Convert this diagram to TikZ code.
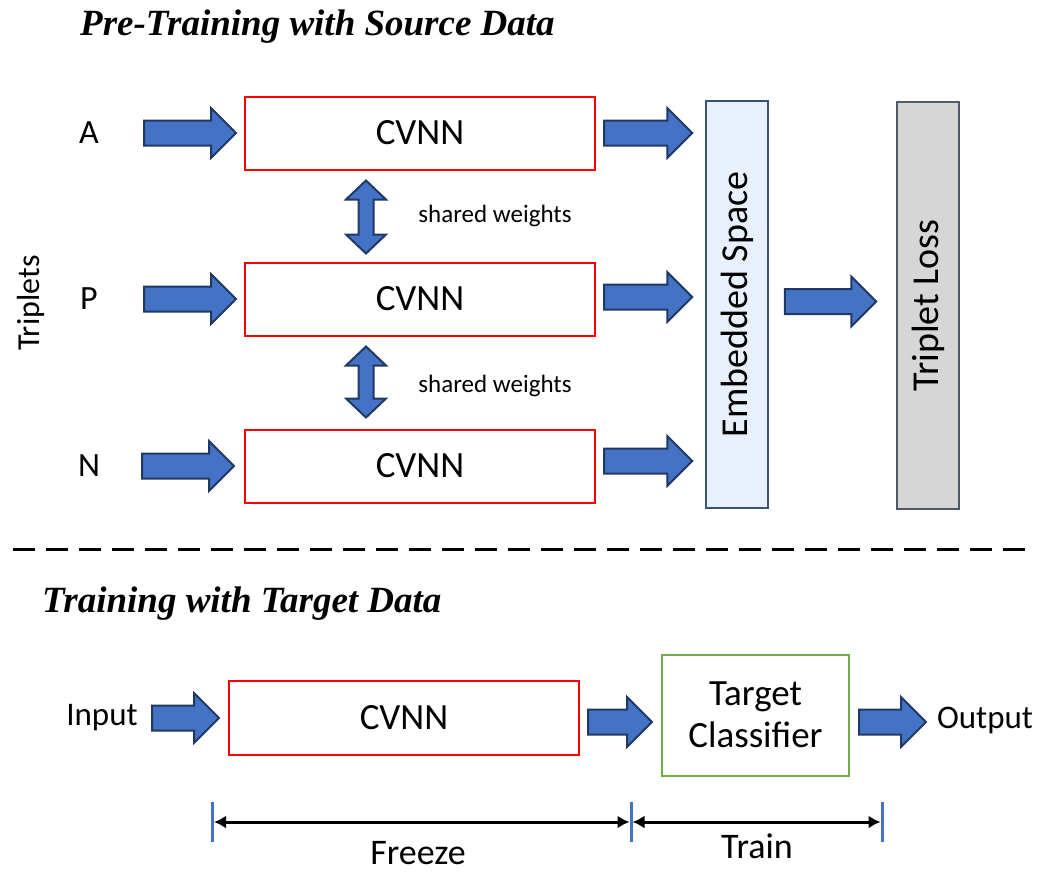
\documentclass[tikz,border=0pt]{standalone}
\usepackage{fontspec}
\setmainfont{Carlito}
\newfontfamily\titlefont{Liberation Serif}
\usepackage{tikz}
\usetikzlibrary{calc}
\usetikzlibrary{arrows.meta}
\usetikzlibrary{positioning}
\definecolor{arrowblue}{RGB}{68, 114, 196}
\definecolor{arrowedge}{RGB}{32, 56, 100}
\definecolor{cvnnred}{RGB}{255, 0, 0}
\definecolor{embfill}{RGB}{231, 240, 252}
\definecolor{embedge}{RGB}{58, 84, 112}
\definecolor{lossfill}{RGB}{214, 214, 214}
\definecolor{lossedge}{RGB}{78, 90, 104}
\definecolor{clfgreen}{RGB}{112, 173, 71}
\definecolor{tickblue}{RGB}{68, 114, 196}

\tikzset{
  cvnn/.style    ={draw=cvnnred, line width=2pt, minimum width=350pt, minimum height=73pt,
                   inner sep=0pt, font=\fontsize{37}{44}\selectfont},
  column/.style  ={line width=1.5pt, rotate=90, minimum width=407pt, minimum height=62pt,
                   inner sep=0pt, font=\fontsize{38}{45}\selectfont},
  label/.style   ={inner sep=0pt, font=\fontsize{34}{41}\selectfont},
  small/.style   ={inner sep=0pt, font=\fontsize{25}{30}\selectfont},
  title/.style   ={inner sep=0pt, font=\titlefont\bfseries\itshape\fontsize{37}{44}\selectfont},
  blockarrow/.style={fill=arrowblue, draw=arrowedge, line width=2pt, line join=miter},
  ticks/.style   ={draw=tickblue, line width=3pt},
  span/.style    ={line width=3pt, {Latex[length=12pt,width=13pt]}-{Latex[length=12pt,width=13pt]}},
}

% horizontal block arrow from #1 to #2 (tip)
\newcommand{\blockarr}[2]{%
  \draw[blockarrow] let \p1=(#1), \p2=(#2) in
    (\x1,\y1+12.5pt) -- (\x2-25pt,\y1+12.5pt) -- (\x2-25pt,\y1+25pt) -- (\x2,\y1)
    -- (\x2-25pt,\y1-25pt) -- (\x2-25pt,\y1-12.5pt) -- (\x1,\y1-12.5pt) -- cycle;}
% vertical double block arrow from #1 (top tip) to #2 (bottom tip)
\newcommand{\sharedarr}[2]{%
  \draw[blockarrow] let \p1=(#1), \p2=(#2) in
    (\x1,\y1) -- (\x1+20pt,\y1-19pt) -- (\x1+7.5pt,\y1-19pt) -- (\x1+7.5pt,\y2+19pt)
    -- (\x1+20pt,\y2+19pt) -- (\x1,\y2) -- (\x1-20pt,\y2+19pt) -- (\x1-7.5pt,\y2+19pt)
    -- (\x1-7.5pt,\y1-19pt) -- (\x1-20pt,\y1-19pt) -- cycle;}

\begin{document}
\begin{tikzpicture}[x=1pt, y=-1pt]
\useasboundingbox (0,0) rectangle (1041,873);

% pre-training
\node[title, anchor=base west] (titleSrc) at (80,35) {Pre-Training with Source Data};

\node[cvnn] (cvnnA) at (420,133) {CVNN};
\node[cvnn] (cvnnP) at (420,299) {CVNN};
\node[cvnn] (cvnnN) at (420,466) {CVNN};

\node[label] (labA) at (89,133) {A};
\node[label] (labP) at (89,299) {P};
\node[label] (labN) at (89,466) {N};
\node[label, rotate=90, font=\fontsize{32}{38}\selectfont] (triplets) at (31,303) {Triplets};

% rotated columns: north is the left side, south the right side
\node[column, draw=embedge,  fill=embfill]  (emb)  at (737,304.5) {Embedded Space};
\node[column, draw=lossedge, fill=lossfill] (loss) at (928,305.5) {Triplet Loss};

\blockarr{$(cvnnA.west)+(-100,0)$}{$(cvnnA.west)+(-8,0)$}
\blockarr{$(cvnnP.west)+(-100,0)$}{$(cvnnP.west)+(-8,0)$}
\blockarr{$(cvnnN.west)+(-102,0)$}{$(cvnnN.west)+(-10,0)$}
\blockarr{$(cvnnA.east)+(8,0)$}{$(emb.north |- cvnnA.east)+(-13,0)$}
\blockarr{$(cvnnP.east)+(8,-2)$}{$(emb.north |- cvnnP.east)+(-13,-2)$}
\blockarr{$(cvnnN.east)+(8,-5)$}{$(emb.north |- cvnnN.east)+(-13,-5)$}
\blockarr{$(emb.south)+(16,-3)$}{$(loss.north)+(-20,-3)$}

\sharedarr{$(cvnnA.south)+(-54,10)$}{$(cvnnP.north)+(-54,-8)$}
\sharedarr{$(cvnnP.south)+(-54,10)$}{$(cvnnN.north)+(-54,-11)$}
\node[small] (shared1) at (495,216) {shared weights};
\node[small] (shared2) at (495,386) {shared weights};

\draw[line width=3pt, dash pattern=on 22pt off 11pt] (13,549) -- (1030,549);

% training with target data
\node[title, anchor=base west] (titleTgt) at (42,612) {Training with Target Data};

\node[cvnn, minimum height=74pt] (cvnnT) at (404,718) {CVNN};
\node[draw=clfgreen, line width=2pt, minimum width=187pt, minimum height=121pt, inner sep=0pt,
      align=center, font=\fontsize{37}{42}\selectfont] (target) at (755.5,715) {Target\\Classifier};
\node[label, font=\fontsize{33}{40}\selectfont] (input)  at (102,718) {Input};
\node[label, font=\fontsize{33}{40}\selectfont] (output) at (985,720) {Output};

\blockarr{$(cvnnT.west)+(-76,0)$}{$(cvnnT.west)+(-9,0)$}
\blockarr{$(cvnnT.east)+(8,4)$}{$(target.west |- cvnnT.east)+(-9,4)$}
\blockarr{$(target.east)+(9,7)$}{$(target.east)+(76,7)$}

\coordinate (d1) at (212.5,822);
\coordinate (d2) at (631,822);
\coordinate (d3) at (882,822);
\foreach \d in {d1,d2,d3}
  \draw[ticks] ($(\d)+(0,-20)$) -- ($(\d)+(0,20)$);
\draw[span, shorten <=1.5pt, shorten >=1.5pt] (d1) -- (d2);
\draw[span, shorten <=1.5pt, shorten >=1.5pt] (d2) -- (d3);
\node[label, font=\fontsize{36}{43}\selectfont] (freeze) at (418,853) {Freeze};
\node[label, font=\fontsize{36}{43}\selectfont] (train)  at (757,846) {Train};
\end{tikzpicture}
\end{document}
